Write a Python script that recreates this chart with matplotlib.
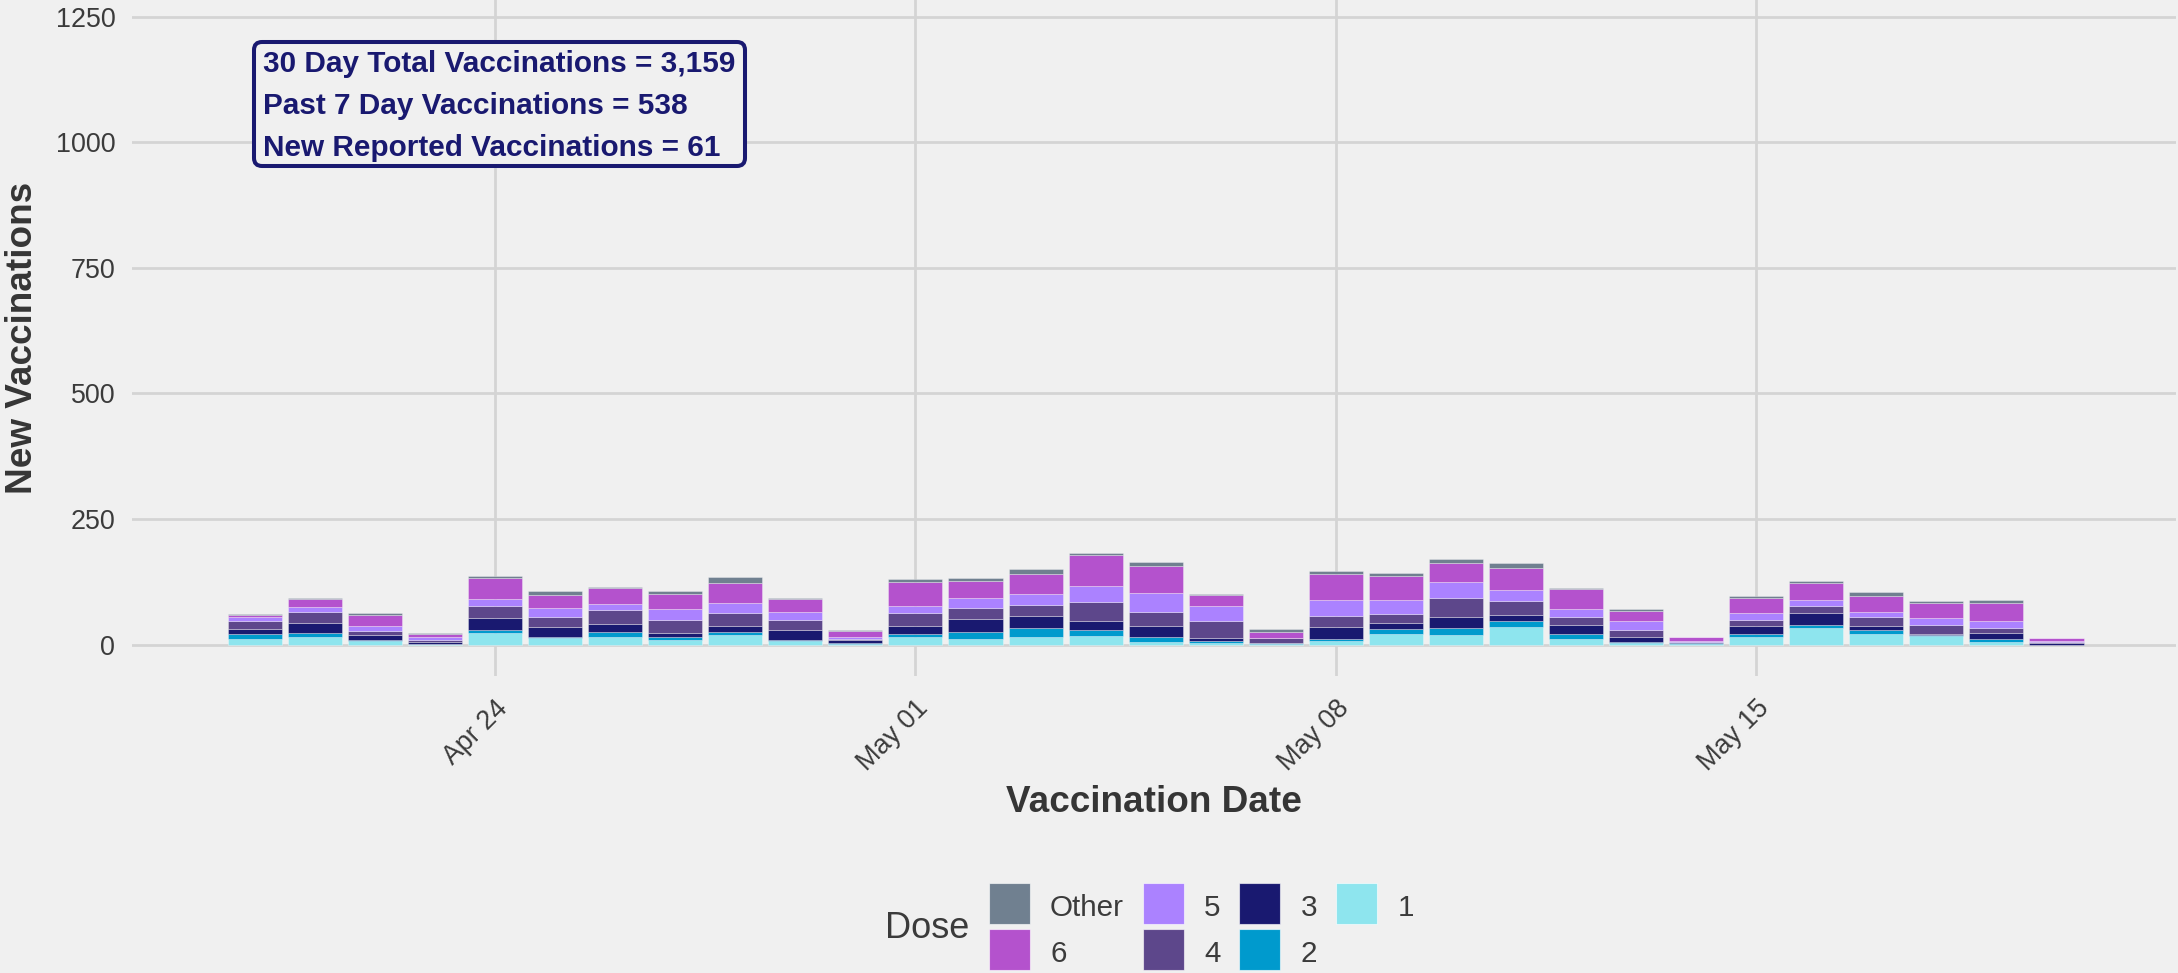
import datetime as dt
import matplotlib
matplotlib.use("Agg")
import matplotlib.pyplot as plt
import matplotlib.dates as mdates
import matplotlib.patches as mpatches
import numpy as np

plt.rcParams['font.family'] = ['Liberation Sans', 'DejaVu Sans']

# ---------------- data ----------------
start = dt.date(2023, 4, 20)
dates = [start + dt.timedelta(days=i) for i in range(31)]

dose_1     = [11, 15, 7, 1, 23, 13, 15, 9, 19, 7, 2, 16, 12, 16, 17, 5, 4, 2, 7, 22, 20, 35, 11, 3, 2, 15, 33, 21, 17, 6, 0]
dose_2     = [11, 9, 2, 1, 7, 3, 11, 7, 7, 3, 2, 6, 13, 18, 13, 11, 4, 1, 5, 9, 13, 12, 11, 2, 2, 7, 6, 9, 2, 5, 0]
dose_3     = [10, 19, 10, 4, 23, 19, 16, 8, 11, 19, 5, 15, 25, 22, 16, 21, 6, 1, 23, 12, 21, 11, 17, 10, 1, 16, 23, 8, 3, 13, 4]
dose_4     = [14, 21, 9, 3, 23, 19, 27, 25, 25, 19, 3, 25, 23, 23, 38, 28, 32, 9, 21, 17, 39, 29, 15, 15, 1, 10, 15, 16, 17, 10, 1]
dose_5     = [8, 10, 10, 7, 14, 19, 11, 21, 21, 17, 3, 15, 20, 21, 33, 38, 30, 1, 32, 29, 31, 21, 17, 16, 2, 15, 11, 10, 14, 13, 3]
dose_6     = [5, 16, 21, 6, 42, 26, 33, 31, 40, 25, 13, 47, 34, 40, 61, 54, 22, 12, 52, 48, 39, 44, 39, 20, 7, 30, 34, 33, 29, 35, 5]
dose_other = [1, 3, 3, 2, 5, 7, 1, 5, 11, 3, 1, 7, 5, 11, 5, 8, 3, 5, 7, 5, 7, 11, 3, 5, 1, 3, 4, 8, 5, 6, 0]

series_labels = ["1", "2", "3", "4", "5", "6", "Other"]
series_values = [dose_1, dose_2, dose_3, dose_4, dose_5, dose_6, dose_other]
series_colors = ["#8EE5EE", "#009ACD", "#191970", "#5D478B", "#AB82FF", "#B452CD", "#708090"]

tick_dates = [dt.date(2023, 4, 24), dt.date(2023, 5, 1), dt.date(2023, 5, 8), dt.date(2023, 5, 15)]
tick_labels = ["Apr 24", "May 01", "May 08", "May 15"]
y_ticks = [0, 250, 500, 750, 1000, 1250]

annotation_lines = ["30 Day Total Vaccinations = 3,159",
                    "Past 7 Day Vaccinations = 538",
                    "New Reported Vaccinations = 61"]

# ---------------- figure ----------------
W, H = 2178, 973
DPI = 100
BG = "#F0F0F0"
TXT = "#3b3b3b"
fig = plt.figure(figsize=(W / DPI, H / DPI), dpi=DPI, facecolor=BG)

px_left, px_right = 132, 2176
px_top, px_bottom = -14.7, 676
ax = fig.add_axes([px_left / W, 1 - px_bottom / H, (px_right - px_left) / W, (px_bottom - px_top) / H])
ax.set_facecolor(BG)
for s in ax.spines.values():
    s.set_visible(False)

xnum = mdates.date2num(dates)
bottom = np.zeros(len(dates))
for lab, vals, col in zip(series_labels, series_values, series_colors):
    v = np.array(vals, dtype=float)
    ax.bar(xnum, v, bottom=bottom, width=0.9, color=col, edgecolor=(1, 1, 1, 0.45),
           linewidth=0.5, label=lab, zorder=3)
    bottom += v

base = mdates.date2num(dt.date(2023, 4, 24))
ax.set_xlim(base - 6.045, base + 27.99)
ax.set_ylim(-62.5, 1312.5)

ax.set_xticks(mdates.date2num(tick_dates))
ax.set_xticklabels(tick_labels)
ax.set_yticks(y_ticks)
ax.set_yticklabels([str(t) for t in y_ticks])

ax.grid(True, axis='both', color="#D4D4D4", linewidth=2.0, zorder=0)
ax.set_axisbelow(True)

ax.tick_params(axis='both', length=0, labelsize=19.4, labelcolor=TXT)
ax.tick_params(axis='y', pad=12)
ax.tick_params(axis='x', pad=14)
for lbl in ax.get_xticklabels():
    lbl.set_rotation(45)
    lbl.set_ha('right')
    lbl.set_va('top')
    lbl.set_rotation_mode('anchor')

# axis titles
title_col = "#353535"
fig.text(23 / W, 1 - 338 / H, "New Vaccinations", rotation=90, ha='center', va='center',
         fontsize=26.6, fontweight='bold', color=title_col)
fig.text(1154 / W, 1 - 803 / H, "Vaccination Date", ha='center', va='center',
         fontsize=26.6, fontweight='bold', color=title_col)

# annotation box
navy = "#191970"
box = mpatches.FancyBboxPatch((254 / DPI, (H - 166) / DPI), 491 / DPI, 124 / DPI,
                              boxstyle="round,pad=0,rounding_size=0.08",
                              transform=fig.dpi_scale_trans, facecolor=BG,
                              edgecolor=navy, linewidth=2.9, zorder=5)
fig.add_artist(box)
for line, yb in zip(annotation_lines, [72.5, 114, 155.5]):
    fig.text(263 / W, 1 - yb / H, line, ha='left', va='baseline', fontsize=21.4,
             fontweight='bold', color=navy, zorder=6)

# legend (manual layout, column-wise: Other, 6 | 5, 4 | 3, 2 | 1)
legend_order = [6, 5, 4, 3, 2, 1, 0]
key_cols_x = [989, 1143, 1239, 1336]
text_cols_x = [1050, 1204, 1301, 1398]
row_top_y = [883, 929]
key_size = 41
for k, idx in enumerate(legend_order):
    c, r = divmod(k, 2)
    x0 = key_cols_x[c]
    y0 = row_top_y[r]
    rect = mpatches.Rectangle((x0 / DPI, (H - y0 - key_size) / DPI), key_size / DPI, key_size / DPI,
                              transform=fig.dpi_scale_trans, facecolor=series_colors[idx],
                              edgecolor=(1, 1, 1, 0.6), linewidth=0.8)
    fig.add_artist(rect)
    fig.text(text_cols_x[c] / W, 1 - (y0 + key_size / 2 + 1) / H, series_labels[idx],
             ha='left', va='center_baseline', fontsize=21.3, color=TXT)
fig.text(885 / W, 1 - 928 / H, "Dose", ha='left', va='center', fontsize=26, color=TXT)

fig.savefig("out.png", dpi=DPI, facecolor=BG)
